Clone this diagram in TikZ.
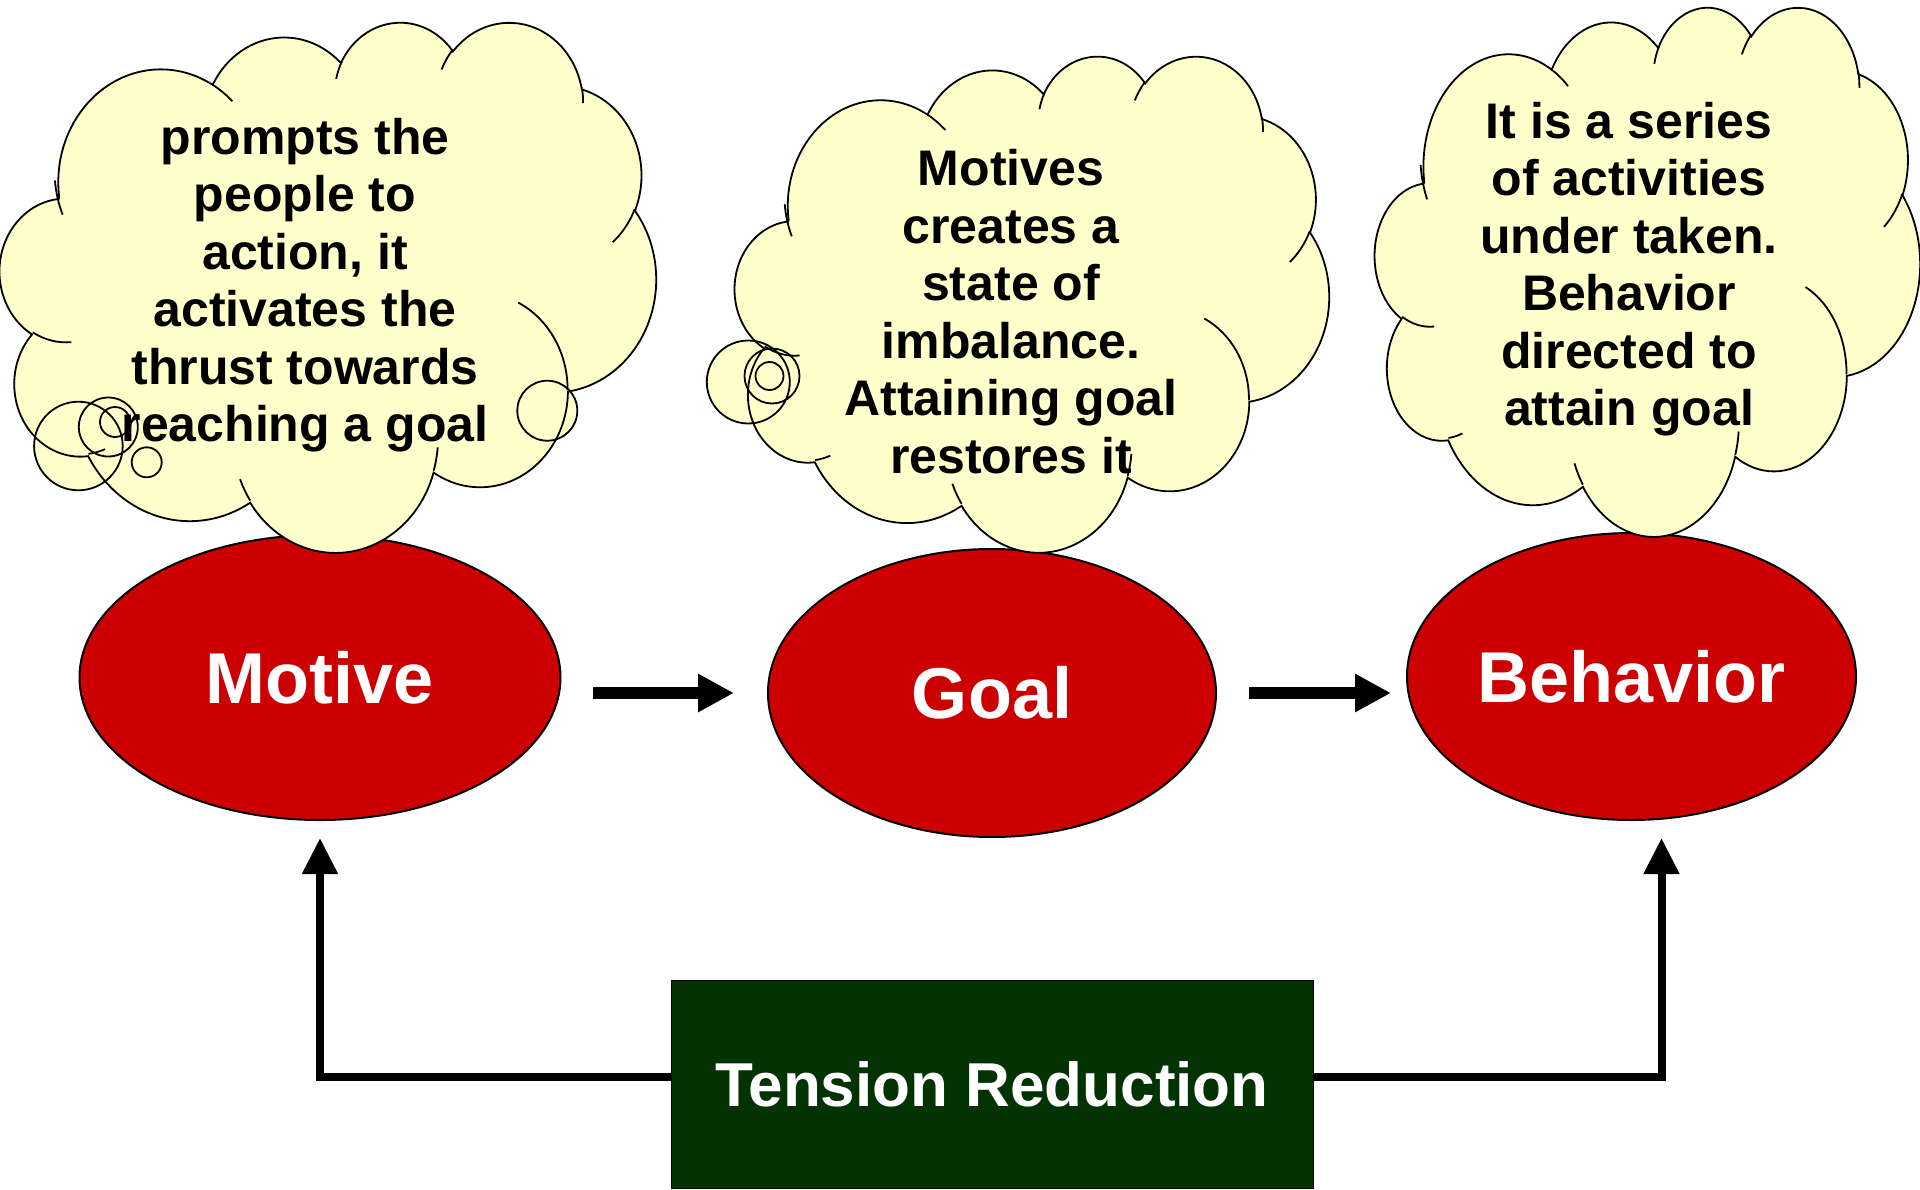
\documentclass[tikz,border=0pt]{standalone}
\usepackage{fontspec}
\setmainfont{Liberation Sans}
\usetikzlibrary{shapes.geometric,arrows.meta}
\definecolor{redfill}{RGB}{204,0,0}
\definecolor{cloudfill}{RGB}{255,255,204}
\definecolor{boxgreen}{RGB}{3,51,3}

% arc of an ellipse, angles given as visual (ray) angles as in DrawingML
\newcommand\carc[4]{arc[start angle={atan2((#1)*sin(#3),(#2)*cos(#3))}, delta angle={mod(atan2((#1)*sin((#3)+(#4)),(#2)*cos((#3)+(#4)))-atan2((#1)*sin(#3),(#2)*cos(#3))+720,360)}, x radius=#1, y radius=#2]}

\newcommand\cloudoutline{(390,1437)
 \carc{675.3}{919.0}{-190.4875}{123.7805}
 \carc{533.3}{726.7}{-144.1024}{89.9452}
 \carc{436.5}{594.5}{-145.8079}{99.7230}
 \carc{485.7}{659.5}{-130.9861}{117.2417}
 \carc{533.3}{727.3}{-78.7089}{109.0269}
 \carc{677.5}{922.0}{-46.2673}{130.2690}
 \carc{578.5}{786.7}{0.6250}{114.0333}
 \carc{675.2}{921.5}{22.4516}{115.1726}
 \carc{772.0}{1054.3}{66.2426}{75.7110}
 \carc{436.0}{591.8}{-274.9421}{146.7356}
 \carc{434.5}{594.5}{-246.8285}{152.5189}
 -- cycle}

\newcommand\cloudinner{
 (469.3,2617.7) \carc{434.5}{594.5}{86.742}{26.4295}
 (692.8,3489.9) \carc{436.0}{591.8}{73.6105}{11.4475}
 (1647.8,3909.0) \carc{675.2}{921.5}{137.6242}{14.0811}
 (2882.7,3475.1) \carc{675.2}{921.5}{6.4533}{15.9984}
 (3412.9,2295.4) \carc{578.5}{786.7}{-70.2924}{70.9174}
 (4179.8,1535.4) \carc{533.3}{727.3}{30.318}{27.7515}
 (3832.4,542.6) \carc{485.7}{659.5}{-13.7443}{14.8589}
 (2907.8,395.2) \carc{485.7}{659.5}{-149.1815}{18.1954}
 (2214.1,472.0) \carc{436.5}{594.5}{-163.4943}{17.6864}
 (1400.0,519.2) \carc{675.3}{919.0}{-66.707}{12.3194}
 (412.7,1578.9) \carc{675.3}{919.0}{150.098}{23.2378}}

\newcommand\cloudfillat[4]{%
  \pgfmathsetmacro\cloudsx{#3/4320}%
  \pgfmathsetmacro\cloudsy{#4/4320}%
  \begin{scope}[shift={(#1,#2)}, x=\cloudsx pt, y=-\cloudsy pt]
    \fill[cloudfill] \cloudoutline;
  \end{scope}}
\newcommand\cloudstrokeat[4]{%
  \pgfmathsetmacro\cloudsx{#3/4320}%
  \pgfmathsetmacro\cloudsy{#4/4320}%
  \begin{scope}[shift={(#1,#2)}, x=\cloudsx pt, y=-\cloudsy pt]
    \draw[cloudline] \cloudoutline;
    \draw[cloudline] \cloudinner;
  \end{scope}}

\begin{document}
\begin{tikzpicture}[x=1pt,y=-1pt,
  cloudline/.style={draw=black, line width=1.8pt},
  bigellipse/.style={ellipse, draw=black, line width=2pt, fill=redfill, inner sep=0pt,
    text=white, font=\bfseries\fontsize{72}{80}\selectfont},
  cloudtext/.style={align=center, inner sep=0pt, text=black,
    font=\bfseries\fontsize{50}{57.5}\selectfont},
  flowarrow/.style={line width=12pt, -{Triangle[length=36pt,width=36pt]}},
  tensionline/.style={line width=8pt, -{Triangle[length=36pt,width=34pt]}},
  tensionbox/.style={draw=black, line width=1pt, fill=boxgreen, text=white,
    minimum width=642pt, minimum height=208pt, inner sep=0pt,
    font=\bfseries\fontsize{62}{70}\selectfont}]
\useasboundingbox (0,0) rectangle (1920,1189);

% main ellipses
\node[bigellipse, minimum width=481pt, minimum height=285pt] (motive) at (320,677.5) {Motive};
\node[bigellipse, minimum width=448pt, minimum height=288pt] (goal) at (992,693) {Goal};
\node[bigellipse, minimum width=449pt, minimum height=287pt] (behavior) at (1631.5,676.5) {Behavior};

% clouds: fills
\fill[cloudfill] (78.4,446) circle[radius=44.3] (108.3,427) circle[radius=29.5]
  (115,422) circle[radius=15] (146.7,462.3) circle[radius=15] (547.3,410.7) circle[radius=30];
\fill[cloudfill] (748.3,382) circle[radius=41.5] (772,376) circle[radius=27.5] (769.5,376) circle[radius=14];
\cloudfillat{0}{21}{656}{530}
\cloudfillat{735}{55}{594}{496}
\cloudfillat{1375}{6}{545}{529}
% clouds: strokes
\draw[cloudline] (78.4,446) circle[radius=44.3] (108.3,427) circle[radius=29.5]
  (115,422) circle[radius=15] (146.7,462.3) circle[radius=15] (547.3,410.7) circle[radius=30];
\draw[cloudline] (748.3,382) circle[radius=41.5] (772,376) circle[radius=27.5] (769.5,376) circle[radius=14];
\cloudstrokeat{0}{21}{656}{530}
\cloudstrokeat{735}{55}{594}{496}
\cloudstrokeat{1375}{6}{545}{529}

% cloud texts
\node[cloudtext] (t1) at (305,285) {prompts the\\people to\\action, it\\activates the\\thrust towards\\reaching a goal};
\node[cloudtext] (t2) at (1011,311.5) {Motives\\creates a\\state of\\imbalance.\\Attaining goal\\restores it};
\node[cloudtext] (t3) at (1629,269) {It is a series\\of activities\\under taken.\\Behavior\\directed to\\attain goal};

% tension box
\node[tensionbox] (tension) at (992,1084) {Tension Reduction};

% connectors
\draw[flowarrow, shorten <=31pt, shorten >=33pt] (motive.east |- goal.center) -- (goal.west);
\draw[flowarrow, shorten <=32pt, shorten >=15pt] (goal.east) -- (goal.east -| behavior.west);
\draw[tensionline, shorten >=17pt] ([yshift=7pt]tension.west) -| (motive.south);
\draw[tensionline, shorten >=17pt] ([yshift=7pt]tension.east) -| ([xshift=30pt]behavior.south);
\end{tikzpicture}
\end{document}
